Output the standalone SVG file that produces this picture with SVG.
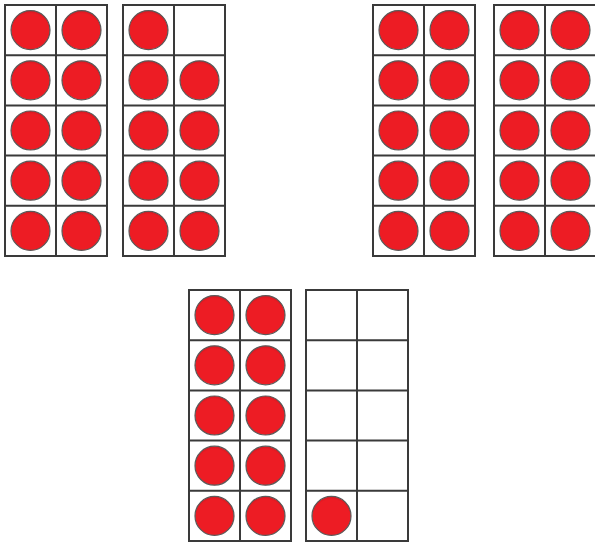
<svg xmlns="http://www.w3.org/2000/svg" xmlns:xlink="http://www.w3.org/1999/xlink" width="595" height="545" viewBox="0 0 595 545">
<style>
.frame{fill:#fff;stroke:#3a3a3a;stroke-width:2}
.grid{stroke:#3a3a3a;stroke-width:2;fill:none}
.dot{fill:url(#rg);stroke:#5a5a5a;stroke-width:1.2}
</style>
<defs>
<radialGradient id="rg" cx="0.5" cy="0.55" r="0.55">
<stop offset="0.85" stop-color="#ED1C24"/>
<stop offset="1" stop-color="#D41820"/>
</radialGradient>
<g id="tf">
<rect class="frame" x="0" y="0" width="102" height="251"/>
<path class="grid" d="M51 0V251M0 50.2H102M0 100.4H102M0 150.6H102M0 200.8H102"/>
</g>
<circle id="c" class="dot" r="19.5"/>
</defs>
<rect width="595" height="545" fill="#fff"/>
<g id="frame1" transform="translate(5,5)">
<use xlink:href="#tf"/>
<use xlink:href="#c" x="25.5" y="25.1"/><use xlink:href="#c" x="76.5" y="25.1"/>
<use xlink:href="#c" x="25.5" y="75.3"/><use xlink:href="#c" x="76.5" y="75.3"/>
<use xlink:href="#c" x="25.5" y="125.5"/><use xlink:href="#c" x="76.5" y="125.5"/>
<use xlink:href="#c" x="25.5" y="175.7"/><use xlink:href="#c" x="76.5" y="175.7"/>
<use xlink:href="#c" x="25.5" y="225.9"/><use xlink:href="#c" x="76.5" y="225.9"/>
</g>
<g id="frame2" transform="translate(123,5)">
<use xlink:href="#tf"/>
<use xlink:href="#c" x="25.5" y="25.1"/>
<use xlink:href="#c" x="25.5" y="75.3"/><use xlink:href="#c" x="76.5" y="75.3"/>
<use xlink:href="#c" x="25.5" y="125.5"/><use xlink:href="#c" x="76.5" y="125.5"/>
<use xlink:href="#c" x="25.5" y="175.7"/><use xlink:href="#c" x="76.5" y="175.7"/>
<use xlink:href="#c" x="25.5" y="225.9"/><use xlink:href="#c" x="76.5" y="225.9"/>
</g>
<g id="frame3" transform="translate(373,5)">
<use xlink:href="#tf"/>
<use xlink:href="#c" x="25.5" y="25.1"/><use xlink:href="#c" x="76.5" y="25.1"/>
<use xlink:href="#c" x="25.5" y="75.3"/><use xlink:href="#c" x="76.5" y="75.3"/>
<use xlink:href="#c" x="25.5" y="125.5"/><use xlink:href="#c" x="76.5" y="125.5"/>
<use xlink:href="#c" x="25.5" y="175.7"/><use xlink:href="#c" x="76.5" y="175.7"/>
<use xlink:href="#c" x="25.5" y="225.9"/><use xlink:href="#c" x="76.5" y="225.9"/>
</g>
<g id="frame4" transform="translate(494,5)">
<use xlink:href="#tf"/>
<use xlink:href="#c" x="25.5" y="25.1"/><use xlink:href="#c" x="76.5" y="25.1"/>
<use xlink:href="#c" x="25.5" y="75.3"/><use xlink:href="#c" x="76.5" y="75.3"/>
<use xlink:href="#c" x="25.5" y="125.5"/><use xlink:href="#c" x="76.5" y="125.5"/>
<use xlink:href="#c" x="25.5" y="175.7"/><use xlink:href="#c" x="76.5" y="175.7"/>
<use xlink:href="#c" x="25.5" y="225.9"/><use xlink:href="#c" x="76.5" y="225.9"/>
</g>
<g id="frame5" transform="translate(189,290)">
<use xlink:href="#tf"/>
<use xlink:href="#c" x="25.5" y="25.1"/><use xlink:href="#c" x="76.5" y="25.1"/>
<use xlink:href="#c" x="25.5" y="75.3"/><use xlink:href="#c" x="76.5" y="75.3"/>
<use xlink:href="#c" x="25.5" y="125.5"/><use xlink:href="#c" x="76.5" y="125.5"/>
<use xlink:href="#c" x="25.5" y="175.7"/><use xlink:href="#c" x="76.5" y="175.7"/>
<use xlink:href="#c" x="25.5" y="225.9"/><use xlink:href="#c" x="76.5" y="225.9"/>
</g>
<g id="frame6" transform="translate(306,290)">
<use xlink:href="#tf"/>
<use xlink:href="#c" x="25.5" y="225.9"/>
</g>
</svg>
